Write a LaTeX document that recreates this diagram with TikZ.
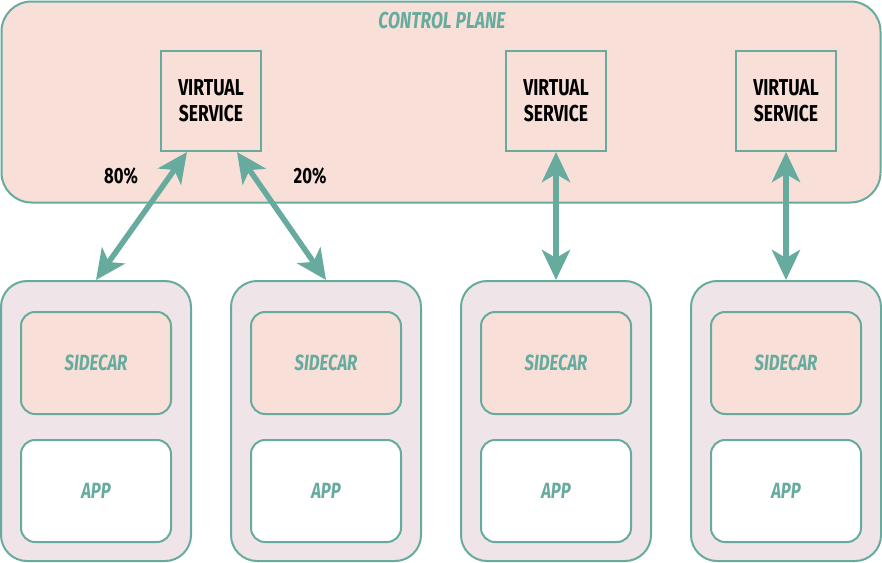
\documentclass[tikz,border=0pt]{standalone}
\usepackage{fontspec}
\setmainfont{Fira Sans}[FakeStretch=0.76]
\usetikzlibrary{arrows.meta}
\definecolor{meshgreen}{HTML}{67AB9F}
\definecolor{planefill}{HTML}{F8E0D8}
\definecolor{podfill}{HTML}{EFE5E8}

\begin{document}
\begin{tikzpicture}[x=1pt, y=-1pt,
		boxnode/.style={draw=meshgreen, line width=2pt, align=center, inner sep=0pt},
		vsnode/.style={boxnode, fill=planefill, minimum width=100pt, minimum height=100pt, font=\fontsize{23}{26}\selectfont\bfseries},
		podnode/.style={boxnode, fill=podfill, rounded corners=26pt, minimum width=190pt, minimum height=280pt},
		partnode/.style={boxnode, rounded corners=14pt, minimum width=150pt, minimum height=102pt, text=meshgreen, font=\fontsize{22}{24}\selectfont\bfseries\itshape},
		linkarrow/.style={{Stealth[length=30pt, width=28pt, inset=8pt]}-{Stealth[length=30pt, width=28pt, inset=8pt]}, draw=meshgreen, line width=5.5pt},
		pctnode/.style={font=\fontsize{22}{24}\selectfont\bfseries}
	]
	\useasboundingbox (0,0) rectangle (882,562);

	% control plane
	\node[boxnode, fill=planefill, rounded corners=30pt, minimum width=879pt, minimum height=201pt] (plane) at (441,102) {};
	\node[text=meshgreen, font=\fontsize{23}{24}\selectfont\bfseries\itshape] (planelabel) at (442,21) {CONTROL PLANE};

	\node[vsnode] (vs1) at (211,101) {VIRTUAL\\SERVICE};
	\node[vsnode] (vs2) at (556,101) {VIRTUAL\\SERVICE};
	\node[vsnode] (vs3) at (786,101) {VIRTUAL\\SERVICE};

	% pods
	\foreach \name/\x in {pod1/96, pod2/326, pod3/556, pod4/786}{
		\node[podnode] (\name) at (\x,421) {};
		\node[partnode, fill=planefill] (\name-sidecar) at (\x,363) {SIDECAR};
		\node[partnode, fill=white] (\name-app) at (\x,491) {APP};
	}

	% links
	\draw[linkarrow] ([xshift=-24pt]vs1.south) -- (pod1.north);
	\draw[linkarrow] ([xshift=26pt]vs1.south) -- (pod2.north);
	\draw[linkarrow] (vs2.south) -- (pod3.north);
	\draw[linkarrow] (vs3.south) -- (pod4.north);

	\node[pctnode] (pct80) at (121,176) {80\%};
	\node[pctnode] (pct20) at (310,176) {20\%};
\end{tikzpicture}
\end{document}
